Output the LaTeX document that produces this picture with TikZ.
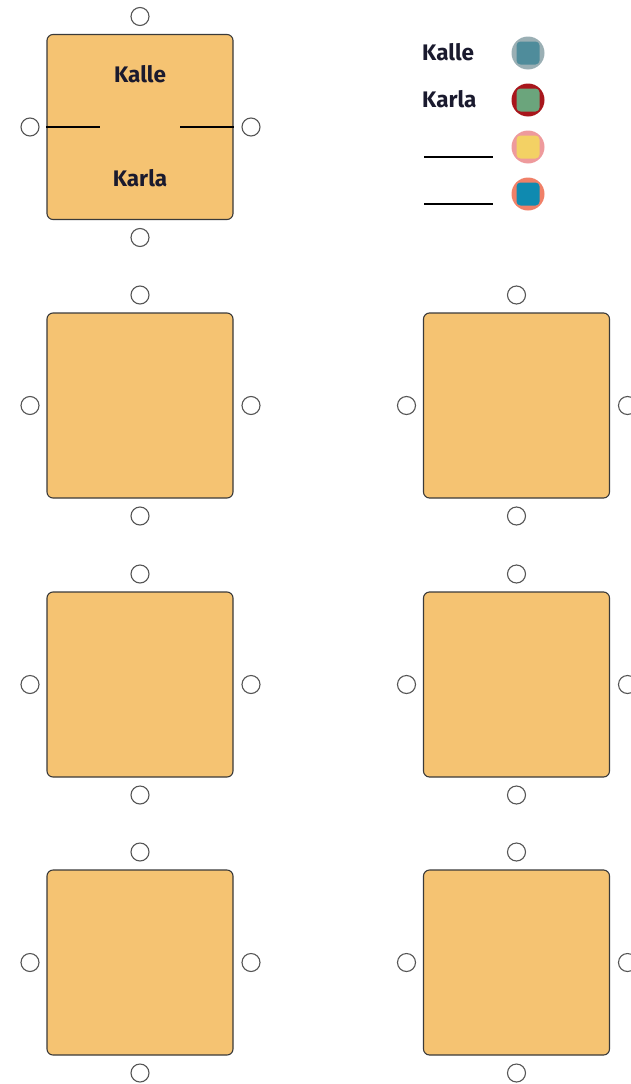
\documentclass[tikz,border=0pt]{standalone}
\usepackage{fontspec}
\setmainfont{Fira Sans}
\definecolor{tablefill}{HTML}{F5C372}
\definecolor{tableedge}{HTML}{3A3A3A}
\definecolor{seatedge}{HTML}{555555}
\definecolor{kalleout}{HTML}{9AAFB4}
\definecolor{kallein}{HTML}{4F8C9B}
\definecolor{karlaout}{HTML}{A8161C}
\definecolor{karlain}{HTML}{6BA57C}
\definecolor{thirdout}{HTML}{EE9A9C}
\definecolor{thirdin}{HTML}{F3D164}
\definecolor{fourthout}{HTML}{F08068}
\definecolor{fourthin}{HTML}{0F8AB0}
\definecolor{inkcol}{HTML}{1A1A2E}
\tikzset{
  tablebox/.style={draw=tableedge, fill=tablefill, line width=1.1pt, rounded corners=6pt,
    minimum width=186pt, minimum height=185pt, inner sep=0pt},
  seat/.style={circle, draw=seatedge, fill=white, line width=1.1pt, minimum size=18pt, inner sep=0pt},
  personlabel/.style={font=\bfseries\fontsize{22.5}{26}\selectfont, text=inkcol, inner sep=0pt},
  sepline/.style={line width=1.1pt, black},
  legdot/.style={circle, minimum size=33pt, inner sep=0pt},
  legsq/.style={rounded corners=4pt, minimum size=23pt, inner sep=0pt},
}
\begin{document}
\begin{tikzpicture}[x=1pt, y=-1pt]
\useasboundingbox (0,0) rectangle (631,1084);
% tables
\node[tablebox] (t1) at (140,127) {};
\node[tablebox] (t2) at (140,405.5) {};
\node[tablebox] (t3) at (516.5,405.5) {};
\node[tablebox] (t4) at (140,684.5) {};
\node[tablebox] (t5) at (516.5,684.5) {};
\node[tablebox] (t6) at (140,962.5) {};
\node[tablebox] (t7) at (516.5,962.5) {};
% seats
\foreach \t/\x/\y in {1/140/127, 2/140/405.5, 3/516.5/405.5, 4/140/684.5, 5/516.5/684.5, 6/140/962.5, 7/516.5/962.5}{
  \node[seat] (s\t n) at (\x,\y-110.5) {};
  \node[seat] (s\t s) at (\x,\y+110.5) {};
  \node[seat] (s\t w) at (\x-110,\y) {};
  \node[seat] (s\t e) at (\x+111,\y) {};
}
% names in first table
\node[personlabel, anchor=base] (k1) at (140,82) {Kalle};
\node[personlabel, anchor=base] (k2) at (140,186) {Karla};
\coordinate (l1) at (100,127);
\coordinate (r1) at (180,127);
\draw[sepline] (t1.west) -- (l1);
\draw[sepline] (r1) -- (t1.east);
% legend
\node[personlabel, anchor=base west] (lk1) at (422,60) {Kalle};
\node[personlabel, anchor=base west] (lk2) at (422,107) {Karla};
\coordinate (la) at (424,157);
\coordinate (lb) at (493,157);
\coordinate (lc) at (424,204);
\coordinate (ld) at (493,204);
\draw[sepline] (la) -- (lb);
\draw[sepline] (lc) -- (ld);
\node[legdot, fill=kalleout] (d1) at (528,53) {};
\node[legsq, fill=kallein] (q1) at (d1) {};
\node[legdot, fill=karlaout] (d2) at (528,100) {};
\node[legsq, fill=karlain] (q2) at (d2) {};
\node[legdot, fill=thirdout] (d3) at (528,147) {};
\node[legsq, fill=thirdin] (q3) at (d3) {};
\node[legdot, fill=fourthout] (d4) at (528,194) {};
\node[legsq, fill=fourthin] (q4) at (d4) {};
\end{tikzpicture}
\end{document}
